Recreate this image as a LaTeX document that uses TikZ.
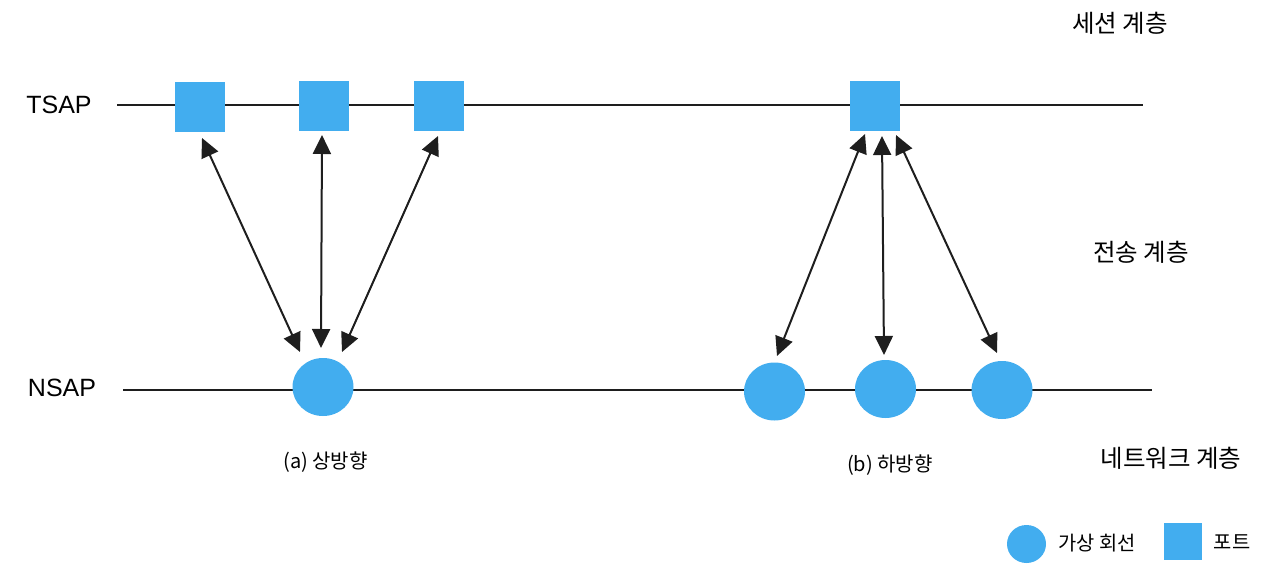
\documentclass[tikz,border=0pt]{standalone}
\usepackage{fontspec}
\setmainfont{Liberation Sans}
\newfontfamily\kr{Noto Sans CJK KR}
\usetikzlibrary{arrows.meta,shapes.geometric,calc}
\definecolor{portblue}{RGB}{66,173,239}
\definecolor{ink}{RGB}{30,30,30}
\tikzset{
  port/.style={draw=none,fill=portblue,minimum width=50pt,minimum height=50pt,inner sep=0pt},
  vc/.style={ellipse,draw=none,fill=portblue,minimum width=61pt,minimum height=58pt,inner sep=0pt},
  layerline/.style={line width=2.2pt,draw=ink},
  arr/.style={line width=2pt,draw=ink,{Triangle[length=19pt,width=18pt]}-{Triangle[length=19pt,width=18pt]}},
  saplbl/.style={font=\fontsize{25}{28}\selectfont,text=black,inner sep=0pt},
  laytxt/.style={font=\kr\fontsize{24.5}{28}\selectfont,text=black,inner sep=0pt},
  captxt/.style={font=\kr\fontsize{20}{23}\selectfont,text=black,inner sep=0pt},
  legtxt/.style={font=\kr\fontsize{19.8}{23}\selectfont,text=black,inner sep=0pt}
}
\begin{document}
\begin{tikzpicture}[x=1pt,y=-1pt]
\useasboundingbox[fill=white] (0,0) rectangle (1280,573);
% layer lines
\coordinate (tl) at (117,105);
\coordinate (tr) at (1143,105);
\coordinate (nl) at (123,390);
\coordinate (nr) at (1152,390);
\draw[layerline] (tl) -- (tr);
\draw[layerline] (nl) -- (nr);
% labels
\node[saplbl] (tsap) at (59,105) {TSAP};
\node[saplbl] (nsap) at (62,388) {NSAP};
\node[laytxt] (session) at (1120,23) {세션 계층};
\node[laytxt] (transport) at (1141,252) {전송 계층};
\node[laytxt] (network) at (1171,458) {네트워크 계층};
% ports
\node[port] (s1) at (199.5,107) {};
\node[port] (s2) at (324,106) {};
\node[port] (s3) at (439,106) {};
\node[port] (s4) at (875,106) {};
% virtual circuits
\node[vc] (ca) at (323,387) {};
\node[vc] (c1) at (774.5,391.5) {};
\node[vc] (c2) at (885.5,389) {};
\node[vc] (c3) at (1002,390) {};
% captions
\node[captxt] (capa) at (325.5,462) {(a) 상방향};
\node[captxt] (capb) at (890,465) {(b) 하방향};
% arrows (a)
\draw[arr] ($(ca)+(-23,-35)$) -- ($(s1)+(2.5,31)$);
\draw[arr] ($(ca)+(-2,-39)$) -- ($(s2)+(-2,29)$);
\draw[arr] ($(ca)+(19,-35)$) -- ($(s3)+(-1,30)$);
% arrows (b)
\draw[arr] ($(c1)+(2.5,-35.5)$) -- ($(s4)+(-10,28)$);
\draw[arr] ($(c2)+(-1.5,-34)$) -- ($(s4)+(7,30)$);
\draw[arr] ($(c3)+(-5,-37)$) -- ($(s4)+(21,29)$);
% legend
\node[vc,minimum width=39pt,minimum height=38pt] (lc) at (1026.5,544) {};
\node[legtxt] (lct) at (1097,543) {가상 회선};
\node[port,minimum width=38pt,minimum height=37pt] (ls) at (1183,541.5) {};
\node[legtxt] (lst) at (1232,542) {포트};
\end{tikzpicture}
\end{document}
